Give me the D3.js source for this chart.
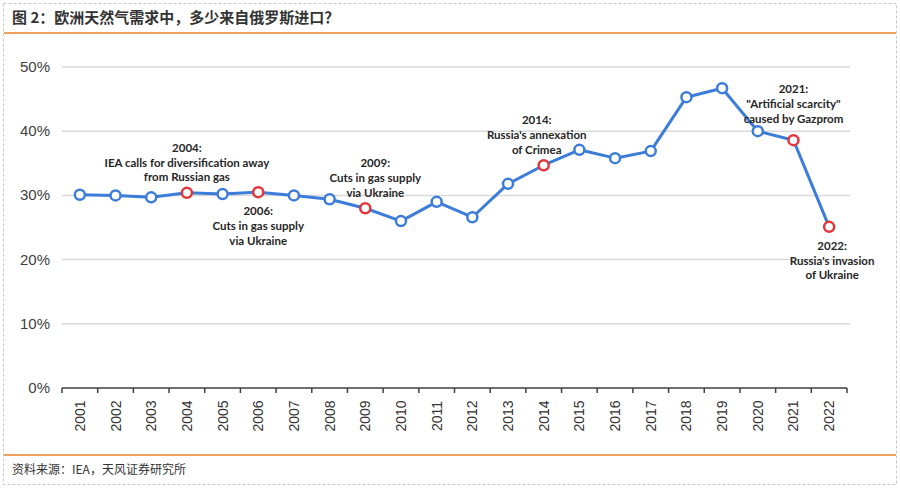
<!DOCTYPE html>
<html>
<head>
<meta charset="utf-8">
<script src="https://cdn.jsdelivr.net/npm/d3@7"></script>
<style>
  body { margin: 0; background: #fff; }
</style>
</head>
<body>
<script>
// share of EU gas demand imported from Russia
var years = ["2001","2002","2003","2004","2005","2006","2007","2008","2009","2010","2011",
             "2012","2013","2014","2015","2016","2017","2018","2019","2020","2021","2022"]
var shares = [30.1, 30.0, 29.7, 30.4, 30.2, 30.5, 30.0, 29.4, 28.0, 26.0, 29.0,
              26.6, 31.8, 34.7, 37.1, 35.8, 36.9, 45.3, 46.7, 40.0, 38.6, 25.1]
var highlighted = ["2004","2006","2009","2014","2021","2022"]
var yTicks = [0, 10, 20, 30, 40, 50]

// annotation text (year, lines, above/below the point)
var notes = [
  {year: "2004", lines: ["2004:", "IEA calls for diversification away", "from Russian gas"], pos: "above"},
  {year: "2006", lines: ["2006:", "Cuts in gas supply", "via Ukraine"], pos: "below"},
  {year: "2009", lines: ["2009:", "Cuts in gas supply", "via Ukraine"], pos: "above"},
  {year: "2014", lines: ["2014:", "Russia's annexation", "of Crimea"], pos: "above"},
  {year: "2021", lines: ["2021:", "\"Artificial scarcity\"", "caused by Gazprom"], pos: "above"},
  {year: "2022", lines: ["2022:", "Russia's invasion", "of Ukraine"], pos: "below"}
]

var screen = {width: 900, height: 490}
var margins = {top: 67, bottom: 102, left: 62, right: 53}
var width = screen.width - margins.left - margins.right
var height = screen.height - margins.top - margins.bottom

var svg = d3.select("body")
  .append("svg")
  .attr("width", screen.width)
  .attr("height", screen.height)

// frame
svg.append("rect")
  .attr("x", 3.5).attr("y", 3.5)
  .attr("width", 893).attr("height", 481)
  .attr("fill", "none")
  .attr("stroke", "#c8c8c8")
  .attr("stroke-dasharray", "3,2")

svg.append("text")
  .attr("x", 12).attr("y", 23)
  .style("font-family", "'Noto Sans CJK SC', sans-serif")
  .style("font-size", "15px")
  .style("font-weight", "bold")
  .attr("fill", "#333")
  .text("图 2：欧洲天然气需求中，多少来自俄罗斯进口？")

svg.append("line")
  .attr("x1", 4).attr("x2", 896)
  .attr("y1", 33).attr("y2", 33)
  .attr("stroke", "#e8832e").attr("stroke-width", 1.5)

svg.append("line")
  .attr("x1", 4).attr("x2", 896)
  .attr("y1", 455).attr("y2", 455)
  .attr("stroke", "#e8832e").attr("stroke-width", 1.5)

svg.append("text")
  .attr("x", 12).attr("y", 474)
  .style("font-family", "'Noto Sans CJK SC', sans-serif")
  .style("font-size", "12px")
  .attr("fill", "#333")
  .text("资料来源：IEA，天风证券研究所")

var xScale = d3.scaleBand()
  .domain(years)
  .range([0, width])

var yScale = d3.scaleLinear()
  .domain([0, 50])
  .range([height, 0])

var chart = svg.append("g")
  .attr("transform", "translate(" + margins.left + "," + margins.top + ")")

// gridlines
chart.selectAll("line.grid")
  .data(yTicks.filter(function(d) { return d > 0 }))
  .enter()
  .append("line")
  .attr("class", "grid")
  .attr("x1", 0).attr("x2", width + 3)
  .attr("y1", function(d) { return yScale(d) })
  .attr("y2", function(d) { return yScale(d) })
  .attr("stroke", "#d9d9d9")
  .attr("stroke-width", 1.5)

// y labels
chart.selectAll("text.ylab")
  .data(yTicks)
  .enter()
  .append("text")
  .attr("class", "ylab")
  .attr("x", -12)
  .attr("y", function(d) { return yScale(d) + 5 })
  .attr("text-anchor", "end")
  .style("font-family", "'Liberation Sans', Arial, sans-serif")
  .style("font-size", "15px")
  .attr("fill", "#404040")
  .text(function(d) { return d + "%" })

// x axis with ticks at band edges
var xAxis = chart.append("g")
  .attr("transform", "translate(0," + height + ")")

xAxis.append("line")
  .attr("x1", 0).attr("x2", width)
  .attr("stroke", "#404040").attr("stroke-width", 1.5)

var edges = years.map(function(d) { return xScale(d) }).concat([width])
xAxis.selectAll("line.tick")
  .data(edges)
  .enter()
  .append("line")
  .attr("class", "tick")
  .attr("x1", function(d) { return d }).attr("x2", function(d) { return d })
  .attr("y1", 0).attr("y2", 5)
  .attr("stroke", "#404040").attr("stroke-width", 1.5)

xAxis.selectAll("text")
  .data(years)
  .enter()
  .append("text")
  .attr("transform", function(d) {
    return "translate(" + (xScale(d) + xScale.bandwidth() / 2 + 5) + ",28) rotate(-90)"
  })
  .attr("text-anchor", "middle")
  .style("font-family", "'Liberation Sans', Arial, sans-serif")
  .style("font-size", "14px")
  .attr("fill", "#333")
  .text(function(d) { return d })

var cx = function(y) { return xScale(y) + xScale.bandwidth() / 2 }

var line = d3.line()
  .x(function(d, i) { return cx(years[i]) })
  .y(function(d) { return yScale(d) })

chart.append("path")
  .datum(shares)
  .attr("d", line)
  .attr("fill", "none")
  .attr("stroke", "#3c7dd9")
  .attr("stroke-width", 3)
  .attr("stroke-linejoin", "round")

chart.selectAll("circle")
  .data(shares)
  .enter()
  .append("circle")
  .attr("cx", function(d, i) { return cx(years[i]) })
  .attr("cy", function(d) { return yScale(d) })
  .attr("r", 5)
  .attr("fill", "#fff")
  .attr("stroke-width", 2.5)
  .attr("stroke", function(d, i) {
    return highlighted.indexOf(years[i]) >= 0 ? "#e3363b" : "#3c7dd9"
  })

// label nudges so they sit like the original
var nudgeX = {"2009": 10, "2014": -7, "2022": 3}
var nudgeY = {"2021": -6}

notes.forEach(function(n) {
  var i = years.indexOf(n.year)
  var py = yScale(shares[i])
  var startY = (n.pos == "above" ? py - 41 : py + 23) + (nudgeY[n.year] || 0)
  var x = cx(n.year) + (nudgeX[n.year] || 0)
  var t = chart.append("text")
    .attr("text-anchor", "middle")
    .style("font-family", "Lato, 'Open Sans', sans-serif")
    .style("font-size", "11.5px")
    .style("font-weight", "bold")
    .attr("fill", "#262626")
  n.lines.forEach(function(l, k) {
    t.append("tspan")
      .attr("x", x)
      .attr("y", startY + k * 14.8)
      .text(l)
  })
})
</script>
</body>
</html>
